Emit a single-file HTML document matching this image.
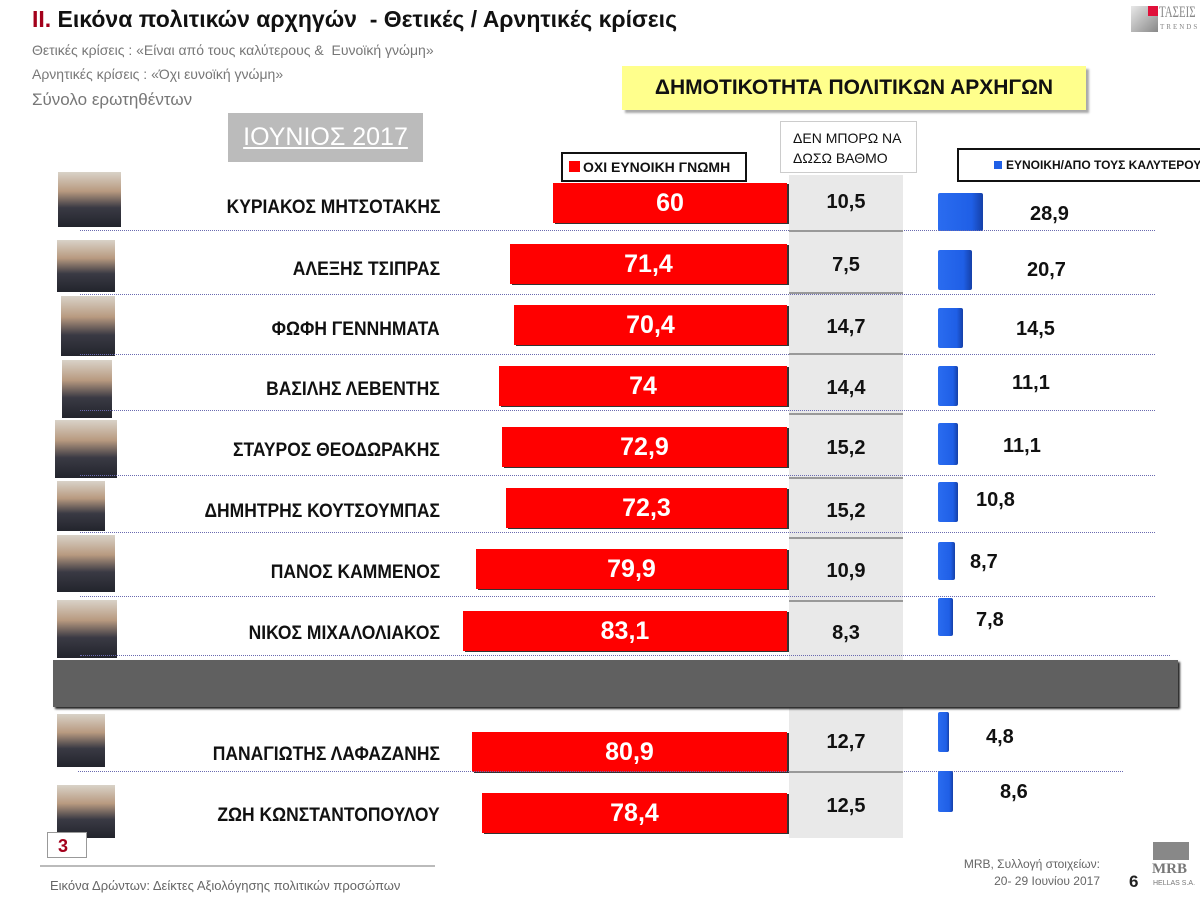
<!DOCTYPE html>
<html><head><meta charset="utf-8"><style>
body{margin:0;width:1200px;height:899px;background:#fff;position:relative;overflow:hidden;font-family:"Liberation Sans","DejaVu Sans",sans-serif}
.a{position:absolute}
.nm{position:absolute;right:760px;font-weight:bold;font-size:19px;color:#111;white-space:nowrap;transform:scaleX(0.92);transform-origin:right center}
.rb{position:absolute;background:#ff0000;right:413px;height:40px;color:#fff;font-weight:bold;font-size:25px;text-align:center;line-height:40px;box-shadow:2px 1px 0 #333}
.gv{position:absolute;left:789px;width:114px;text-align:center;font-weight:bold;font-size:20px;color:#111}
.bb{position:absolute;left:938px;background:linear-gradient(90deg,#2a6cf0,#1f5fe6 75%,#1540a8);border-radius:2px}
.bv{position:absolute;font-weight:bold;font-size:20px;color:#111}
.dl{position:absolute;left:80px;width:1075px;border-top:1px dotted #6a6ab0}
.ph{position:absolute;background:linear-gradient(180deg,#d9d2c8 0%,#b89a80 35%,#3a3a44 65%,#22242c 100%)}
.sep{position:absolute;left:789px;width:114px;height:2px;background:#999}
</style></head><body>
<div class="a" style="left:32px;top:6px;font-size:23px;font-weight:bold;color:#111"><span style="color:#a3001b">II.</span> Εικόνα πολιτικών αρχηγών&nbsp; - Θετικές / Αρνητικές κρίσεις</div>
<div class="a" style="left:32px;top:42px;font-size:14px;color:#777">Θετικές κρίσεις : «Είναι από τους καλύτερους &amp;&nbsp; Ευνοϊκή γνώμη»</div>
<div class="a" style="left:32px;top:66px;font-size:14px;color:#777">Αρνητικές κρίσεις : «Όχι ευνοϊκή γνώμη»</div>
<div class="a" style="left:32px;top:90px;font-size:17px;color:#777">Σύνολο ερωτηθέντων</div>
<div class="a" style="left:1131px;top:6px;width:27px;height:26px;background:linear-gradient(135deg,#e8e8e8,#888)"><div style="position:absolute;right:0;top:0;width:10px;height:10px;background:#e0103a"></div></div>
<div class="a" style="left:1159px;top:4px;font-family:'Liberation Serif',serif;font-size:16px;color:#888;transform:scaleX(0.68);transform-origin:left top;white-space:nowrap">ΤΑΣΕΙΣ</div>
<div class="a" style="left:1160px;top:23px;font-family:'Liberation Serif',serif;font-size:7px;letter-spacing:2px;color:#888">TRENDS</div>
<div class="a" style="left:622px;top:66px;width:464px;height:44px;background:#ffff8c;box-shadow:3px 3px 2px #aaa;font-weight:bold;font-size:21px;line-height:44px;text-align:center;color:#111">ΔΗΜΟΤΙΚΟΤΗΤΑ ΠΟΛΙΤΙΚΩΝ ΑΡΧΗΓΩΝ</div>
<div class="a" style="left:228px;top:113px;width:195px;height:49px;background:#bbb;color:#fff;font-size:25px;line-height:49px;text-align:center;text-decoration:underline">ΙΟΥΝΙΟΣ 2017</div>
<div class="a" style="left:780px;top:121px;width:137px;height:52px;border:1px solid #ccc;box-sizing:border-box;background:#fff;font-size:14px;color:#111;padding:6px 0 0 12px;line-height:20px">ΔΕΝ ΜΠΟΡΩ ΝΑ<br>ΔΩΣΩ ΒΑΘΜΟ</div>
<div class="a" style="left:561px;top:152px;width:186px;height:30px;border:2px solid #111;box-sizing:border-box;background:#fff;font-size:14px;font-weight:bold;line-height:26px;color:#111;padding-left:6px"><span style="display:inline-block;width:11px;height:11px;background:#f00;margin-right:3px"></span>ΟΧΙ ΕΥΝΟΙΚΗ ΓΝΩΜΗ</div>
<div class="a" style="left:957px;top:148px;width:250px;height:34px;border:2px solid #111;box-sizing:border-box;background:#fff;font-size:12px;font-weight:bold;line-height:30px;color:#111;padding-left:35px;white-space:nowrap"><span style="display:inline-block;width:8px;height:8px;background:#1f5fe6;margin-right:4px"></span>ΕΥΝΟΙΚΗ/ΑΠΟ ΤΟΥΣ ΚΑΛΥΤΕΡΟΥ</div>
<div class="a" style="left:789px;top:175px;width:114px;height:663px;background:#e9e9e9"></div>
<div class="a" style="left:53px;top:660px;width:1125px;height:47px;background:#606060;box-shadow:2px 2px 2px #222"></div>

<div class="ph" style="left:58px;top:172px;width:63px;height:55px"></div>
<div class="nm" style="top:197px">ΚΥΡΙΑΚΟΣ ΜΗΤΣΟΤΑΚΗΣ</div>
<div class="rb" style="left:553px;top:183px">60</div>
<div class="gv" style="top:191px">10,5</div>
<div class="bb" style="top:193px;width:45px;height:38px"></div><div class="bv" style="left:1030px;top:203px">28,9</div>
<div class="dl" style="top:230px"></div><div class="sep" style="top:230px"></div>

<div class="ph" style="left:57px;top:240px;width:58px;height:52px"></div>
<div class="nm" style="top:259px">ΑΛΕΞΗΣ ΤΣΙΠΡΑΣ</div>
<div class="rb" style="left:510px;top:244px">71,4</div>
<div class="gv" style="top:254px">7,5</div>
<div class="bb" style="top:250px;width:34px;height:40px"></div><div class="bv" style="left:1027px;top:259px">20,7</div>
<div class="dl" style="top:294px"></div><div class="sep" style="top:292px"></div>

<div class="ph" style="left:61px;top:296px;width:54px;height:60px"></div>
<div class="nm" style="top:319px">ΦΩΦΗ ΓΕΝΝΗΜΑΤΑ</div>
<div class="rb" style="left:514px;top:305px">70,4</div>
<div class="gv" style="top:316px">14,7</div>
<div class="bb" style="top:308px;width:25px;height:40px"></div><div class="bv" style="left:1016px;top:318px">14,5</div>
<div class="dl" style="top:354px"></div><div class="sep" style="top:353px"></div>

<div class="ph" style="left:62px;top:360px;width:50px;height:58px"></div>
<div class="nm" style="top:379px">ΒΑΣΙΛΗΣ ΛΕΒΕΝΤΗΣ</div>
<div class="rb" style="left:499px;top:366px">74</div>
<div class="gv" style="top:377px">14,4</div>
<div class="bb" style="top:366px;width:20px;height:40px"></div><div class="bv" style="left:1012px;top:372px">11,1</div>
<div class="dl" style="top:410px"></div><div class="sep" style="top:413px"></div>

<div class="ph" style="left:55px;top:420px;width:62px;height:58px"></div>
<div class="nm" style="top:440px">ΣΤΑΥΡΟΣ ΘΕΟΔΩΡΑΚΗΣ</div>
<div class="rb" style="left:502px;top:427px">72,9</div>
<div class="gv" style="top:437px">15,2</div>
<div class="bb" style="top:423px;width:20px;height:42px"></div><div class="bv" style="left:1003px;top:435px">11,1</div>
<div class="dl" style="top:475px"></div><div class="sep" style="top:477px"></div>

<div class="ph" style="left:57px;top:481px;width:48px;height:50px"></div>
<div class="nm" style="top:501px">ΔΗΜΗΤΡΗΣ ΚΟΥΤΣΟΥΜΠΑΣ</div>
<div class="rb" style="left:506px;top:488px">72,3</div>
<div class="gv" style="top:500px">15,2</div>
<div class="bb" style="top:482px;width:20px;height:40px"></div><div class="bv" style="left:976px;top:489px">10,8</div>
<div class="dl" style="top:532px"></div><div class="sep" style="top:537px"></div>

<div class="ph" style="left:57px;top:535px;width:58px;height:57px"></div>
<div class="nm" style="top:562px">ΠΑΝΟΣ ΚΑΜΜΕΝΟΣ</div>
<div class="rb" style="left:476px;top:549px">79,9</div>
<div class="gv" style="top:560px">10,9</div>
<div class="bb" style="top:542px;width:17px;height:38px"></div><div class="bv" style="left:970px;top:551px">8,7</div>
<div class="dl" style="top:596px"></div><div class="sep" style="top:600px"></div>

<div class="ph" style="left:57px;top:600px;width:60px;height:58px"></div>
<div class="nm" style="top:623px">ΝΙΚΟΣ ΜΙΧΑΛΟΛΙΑΚΟΣ</div>
<div class="rb" style="left:463px;top:611px">83,1</div>
<div class="gv" style="top:622px">8,3</div>
<div class="bb" style="top:598px;width:15px;height:38px"></div><div class="bv" style="left:976px;top:609px">7,8</div>
<div class="dl" style="top:655px;width:1090px"></div>

<div class="ph" style="left:57px;top:714px;width:48px;height:53px"></div>
<div class="nm" style="top:744px">ΠΑΝΑΓΙΩΤΗΣ ΛΑΦΑΖΑΝΗΣ</div>
<div class="rb" style="left:472px;top:732px">80,9</div>
<div class="gv" style="top:731px">12,7</div>
<div class="bb" style="top:712px;width:11px;height:40px"></div><div class="bv" style="left:986px;top:726px">4,8</div>
<div class="dl" style="left:78px;top:771px;width:1045px"></div><div class="sep" style="top:771px"></div>

<div class="ph" style="left:57px;top:785px;width:58px;height:53px"></div>
<div class="nm" style="top:805px">ΖΩΗ ΚΩΝΣΤΑΝΤΟΠΟΥΛΟΥ</div>
<div class="rb" style="left:482px;top:793px">78,4</div>
<div class="gv" style="top:795px">12,5</div>
<div class="bb" style="top:771px;width:15px;height:41px"></div><div class="bv" style="left:1000px;top:781px">8,6</div>

<div class="a" style="left:47px;top:832px;width:40px;height:26px;border:1px solid #999;background:#fff;color:#a3001b;font-weight:bold;font-size:18px;line-height:26px;padding-left:10px;box-sizing:border-box">3</div>
<div class="a" style="left:40px;top:865px;width:395px;height:2px;background:#bbb"></div>
<div class="a" style="left:50px;top:878px;font-size:13px;color:#666">Εικόνα Δρώντων: Δείκτες Αξιολόγησης πολιτικών προσώπων</div>
<div class="a" style="left:958px;top:856px;font-size:12px;color:#666;text-align:right;width:142px;line-height:17px">MRB, Συλλογή στοιχείων:<br>20- 29 Ιουνίου 2017</div>
<div class="a" style="left:1129px;top:872px;font-size:17px;font-weight:bold;color:#222">6</div>
<div class="a" style="left:1153px;top:842px;width:36px;height:18px;background:#888"></div>
<div class="a" style="left:1152px;top:861px;font-family:'Liberation Serif',serif;font-size:15px;color:#777;font-weight:bold">MRB</div>
<div class="a" style="left:1153px;top:880px;font-size:7px;color:#777">HELLAS S.A.</div>
</body></html>
